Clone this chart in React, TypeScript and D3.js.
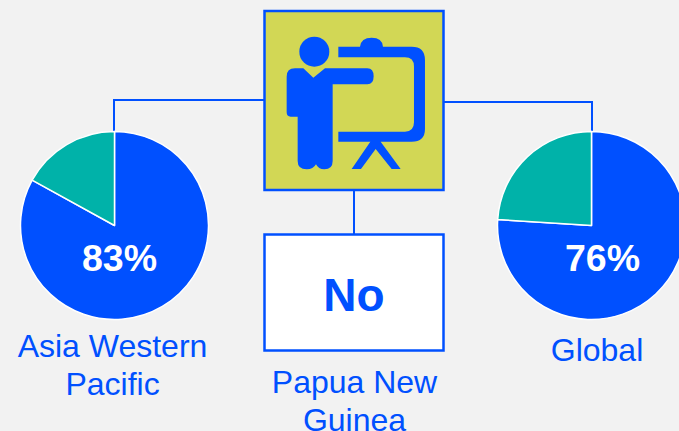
import React from 'react';
import * as d3 from 'd3';

const BLUE = '#0050ff';
const TEAL = '#00b2a9';
const FONT = '"Liberation Sans", Arial, sans-serif';

const regions = ['Asia Western Pacific', 'Global'];
const yesValues = [83, 76];
const noValues = [17, 24];
const pieLabels = ['83%', '76%'];
const answer = 'No';

const pieGen = d3.pie<number>().sort(null);
const arcGen = d3.arc<d3.PieArcDatum<number>>().innerRadius(0).outerRadius(94);

// icon outlines, in a 190x190 box scaled 3x
const body = 'M80 215Q80 190 105 190L130 190L160 218L195 190L322 190Q341 190 341 214Q341 238 322 238L218 238L218 468Q218 493 193 493Q175 493 168 478Q160 493 140 493Q113 493 113 468L113 335L92 335Q80 335 80 322Z';
const board = 'M235 125L300 125Q303 98 335 98Q367 98 369 125L455 125Q495 125 495 165L495 372Q495 410 455 410L362 410L422 492L395 492L347 432L303 492L275 492L331 410L235 410L235 380L435 380Q462 380 462 352L462 185Q462 157 435 157L235 157Z';

const Pie = ({ cx, yes, no, label, labelX }: { cx: number; yes: number; no: number; label: string; labelX: number }) => {
    const arcs = pieGen([yes, no]);
    return (
        <g transform={`translate(${cx},225.5)`}>
            {arcs.map((a, i) => (
                <path key={i} d={arcGen(a) || ''} fill={i === 0 ? BLUE : TEAL} stroke="#fff" strokeWidth={1.5} strokeLinejoin="round" />
            ))}
            <text x={labelX} y={45.5} textAnchor="middle" fill="#fff" fontSize={37.5} fontWeight="bold">{label}</text>
        </g>
    );
};

export default function App() {
    return (
        <svg width={679} height={431} viewBox="0 0 679 431" fontFamily={FONT} style={{ position: 'absolute', left: 0, top: 0, background: '#f2f2f2' }}>
            <g fill="none" stroke={BLUE} strokeWidth={2}>
                <path d="M264 100H114V132" />
                <path d="M444 102H592V132" />
                <path d="M354 190V234" />
            </g>

            <rect x={264.5} y={11} width={179} height={179} fill="#d2d755" stroke={BLUE} strokeWidth={2.5} />
            <g transform="translate(260,5) scale(0.3333)" fill={BLUE}>
                <circle cx={163} cy={140} r={45} />
                <path d={body} />
                <path d={board} />
            </g>

            <Pie cx={114.5} yes={yesValues[0]} no={noValues[0]} label={pieLabels[0]} labelX={5} />
            <Pie cx={591.5} yes={yesValues[1]} no={noValues[1]} label={pieLabels[1]} labelX={11} />

            <rect x={264.5} y={234.5} width={179} height={116} fill="#fff" stroke={BLUE} strokeWidth={2.5} />
            <text x={354} y={311} textAnchor="middle" fill={BLUE} fontSize={46} fontWeight="bold">{answer}</text>

            <g fill={BLUE} fontSize={32} textAnchor="middle">
                <text x={112.5} y={357}>Asia Western</text>
                <text x={112.5} y={395}>Pacific</text>
                <text x={597} y={361}>{regions[1]}</text>
                <text x={354.5} y={393}>Papua New</text>
                <text x={354.5} y={431}>Guinea</text>
            </g>
        </svg>
    );
}
